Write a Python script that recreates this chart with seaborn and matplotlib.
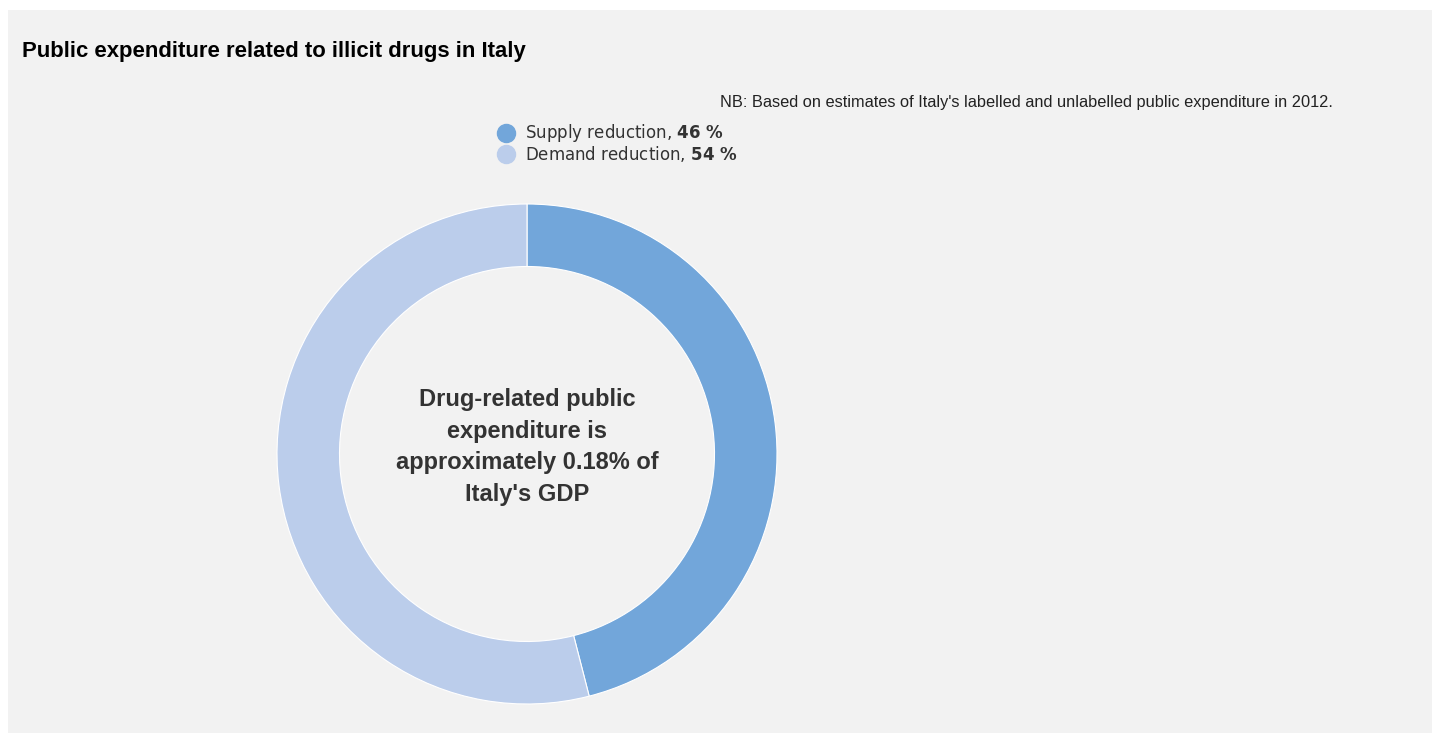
import matplotlib
matplotlib.use("Agg")
import matplotlib.pyplot as plt
import seaborn as sns
from matplotlib.patches import Rectangle
from matplotlib.lines import Line2D

categories = ["Supply reduction", "Demand reduction"]
values = [46, 54]
colors = ["#72a6da", "#bbcdeb"]
title = "Public expenditure related to illicit drugs in Italy"
note = "NB: Based on estimates of Italy's labelled and unlabelled public expenditure in 2012."
center_text = "Drug-related public\nexpenditure is\napproximately 0.18% of\nItaly's GDP"

sns.set_theme(style="white")
plt.rcParams["mathtext.fontset"] = "dejavusans"

W, H = 1437, 735
fig = plt.figure(figsize=(W / 100, H / 100), dpi=100)
fig.patch.set_facecolor("white")
bg = Rectangle((8 / W, 2 / H), 1424 / W, (725 - 2) / H,
               transform=fig.transFigure, facecolor="#f2f2f2",
               edgecolor="none", zorder=-10)
fig.patches.append(bg)

cx, cy, R = 527, 454, 250
ax = fig.add_axes([(cx - R) / W, (H - cy - R) / H, 2 * R / W, 2 * R / H])
ax.set_zorder(5)
ax.set_facecolor("none")
ax.pie(values, colors=colors, startangle=90, counterclock=False, radius=1,
       wedgeprops=dict(width=1 - 187.5 / 250, edgecolor="white", linewidth=0.8))
ax.set_xlim(-1, 1)
ax.set_ylim(-1, 1)
ax.set_aspect("equal")
ax.axis("off")

fig.text(cx / W, 1 - 447 / H, center_text, ha="center", va="center",
         fontsize=17, fontweight="bold", color="#333333",
         family="Liberation Sans", linespacing=1.48, zorder=10)

fig.text(22 / W, 1 - 51 / H, title, ha="left", va="center", fontsize=15.9,
         fontweight="bold", color="#000000", family="Liberation Sans")
fig.text(720 / W, 1 - 103 / H, note, ha="left", va="center", fontsize=11.8,
         color="#222222", family="Liberation Sans")

ys = [133, 154]
for cat, val, col, y in zip(categories, values, colors, ys):
    fig.lines.append(Line2D([506 / W], [1 - y / H], marker="o", markersize=13,
                            color=col, linestyle="none",
                            transform=fig.transFigure))
    fig.text(525 / W, 1 - y / H, f"{cat}, $\\mathbf{{{val}\\ \\%}}$",
             ha="left", va="center", fontsize=12, color="#333333",
             family="DejaVu Sans")

fig.savefig("out.png", dpi=100, facecolor=fig.get_facecolor())
